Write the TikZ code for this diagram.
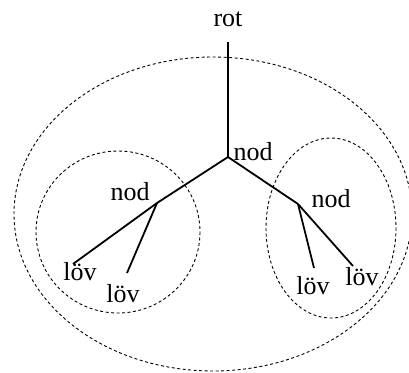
\documentclass[tikz,border=0pt]{standalone}
\usepackage{fontspec}
\setmainfont{Liberation Serif}
\begin{document}
\begin{tikzpicture}[x=1pt,y=-1pt,
  edge/.style={line width=1.8pt},
  group/.style={dash pattern=on 3pt off 2.5pt, line width=0.9pt},
  lbl/.style={font=\fontsize{26}{29}\selectfont, inner sep=0pt}]
\useasboundingbox (0,0) rectangle (409,372);
% groups
\draw[group] (213,214) ellipse [x radius=199, y radius=157];
\draw[group] (118,232) ellipse [x radius=82, y radius=81];
\draw[group] (331,228) ellipse [x radius=65, y radius=90];
% tree points
\coordinate (top) at (228,42);
\coordinate (c) at (228,157);
\coordinate (l) at (157,203);
\coordinate (r) at (298,204);
\coordinate (l1) at (73,264);
\coordinate (l2) at (127,273);
\coordinate (r1) at (314,268);
\coordinate (r2) at (353,266);
% labels
\node[lbl] (trot) at (228,19) {rot};
\node[lbl] (tc) at (253,152) {nod};
\node[lbl] (tl) at (130,192) {nod};
\node[lbl] (tr) at (331,199) {nod};
\node[lbl] (tl1) at (80,272) {löv};
\node[lbl] (tl2) at (123,294) {löv};
\node[lbl] (tr1) at (313,286) {löv};
\node[lbl] (tr2) at (362,277) {löv};
% edges
\draw[edge] (top) -- (c);
\draw[edge] (c) -- (l);
\draw[edge] (c) -- (r);
\draw[edge] (l) -- (l1);
\draw[edge] (l) -- (l2);
\draw[edge] (r) -- (r1);
\draw[edge] (r) -- (r2);
\end{tikzpicture}
\end{document}
